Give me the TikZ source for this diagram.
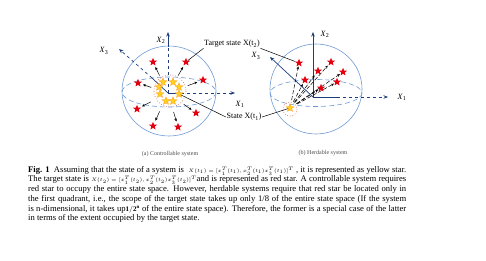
\documentclass[tikz,border=0pt]{standalone}
\usepackage{fontspec}
\setmainfont{Liberation Serif}
\usetikzlibrary{shapes.geometric,arrows.meta,calc}
\definecolor{sphereblue}{HTML}{6E9AD4}
\definecolor{axisblue}{HTML}{1F3D7A}
\definecolor{starred}{HTML}{E3000F}
\definecolor{stargold}{HTML}{FFD21F}
\definecolor{ringred}{HTML}{C8553D}
\begin{document}
\begin{tikzpicture}[x=1pt, y=-1pt,
    rstar/.style   = {star, star points=5, star point ratio=2.3, fill=starred, minimum size=8.5pt, inner sep=0pt},
    ystar/.style   = {star, star points=5, star point ratio=2.3, fill=stargold, draw=orange, line width=0.2pt, minimum size=8.5pt, inner sep=0pt},
    ball/.style    = {draw=sphereblue, line width=0.6pt},
    equator/.style = {draw=sphereblue, dash pattern=on 5pt off 3pt, line width=0.6pt},
    axis/.style    = {draw=axisblue, line width=0.7pt},
    tip/.style     = {-{Stealth[length=4.5pt,width=3.5pt]}},
    move/.style    = {-{Stealth[length=3pt,width=2.6pt]}, line width=0.5pt},
    ring/.style    = {draw=ringred, dotted, line width=0.6pt},
    lbl/.style     = {font=\fontsize{8}{9}\selectfont, inner sep=0.5pt},
    sub/.style     = {font=\fontsize{6}{7}\selectfont, text=black!70},
  ]
    \useasboundingbox (0,0) rectangle (486,261);
    % (a) controllable system
    \coordinate (Oa) at (168,93);
    \draw[ball] (169,91) ellipse (47 and 45);
    \draw[equator] (169,92) ellipse (47 and 15);
    \coordinate (a1) at (235,93);
    \coordinate (a2) at (168,32);
    \coordinate (a3) at (119,49);
    \coordinate (a1m) at (181,93);
    \coordinate (a2m) at (168,47);
    \coordinate (a3m) at (152,78);
    \draw[axis] (Oa) -- (a1m);
    \draw[axis, dashed, tip] (a1m) -- (a1);
    \draw[axis, dashed] (Oa) -- (a2m);
    \draw[axis, tip] (a2m) -- (a2);
    \draw[axis] (Oa) -- (a3m);
    \draw[axis, dashed, tip] (a3m) -- (a3);
    \node[lbl] (x1a) at (240,104) {\textit{X}\textsubscript{1}};
    \node[lbl] (x2a) at (161,40) {\textit{X}\textsubscript{2}};
    \node[lbl] (x3a) at (104,51) {\textit{X}\textsubscript{3}};
    \draw[ring] (170,91) circle (16);
    \foreach \x/\y [count=\i] in {163/82, 173/82, 179/87, 159/87, 160/94, 179/94, 166/101, 173/101} {
      \node[ystar] (ya\i) at (\x,\y) {};
    }
    \foreach \x/\y [count=\i] in {153/62, 186/62, 138/83, 203/80, 137/109, 196/113, 153/126, 178/127} {
      \node[rstar] (ra\i) at (\x,\y) {};
      \draw[move] ($(Oa)!0.56!(ra\i)$) -- ($(Oa)!0.84!(ra\i)$);
    }
    \node[sub] (capa) at (170,154) {(a) Controllable system};
    % (b) herdable system
    \coordinate (Ob) at (313,97);
    \draw[ball] (316,89) ellipse (46 and 45);
    \draw[equator] (316,93) ellipse (46 and 13.5);
    \coordinate (b1) at (388,97);
    \coordinate (b2) at (313,32);
    \coordinate (b3) at (270,57);
    \coordinate (b1m) at (337,97);
    \draw[axis, tip] (Ob) -- (b2);
    \draw[axis] (Ob) -- (b1m);
    \draw[axis, dashed, tip] (b1m) -- (b1);
    \draw[axis, tip] (Ob) -- (b3);
    \node[lbl] (x1b) at (402,97) {\textit{X}\textsubscript{1}};
    \node[lbl] (x2b) at (325,34) {\textit{X}\textsubscript{2}};
    \node[lbl] (x3b) at (256,56) {\textit{X}\textsubscript{3}};
    \draw[ring] (290,109) circle (7);
    \node[ystar] (yb) at (290,108) {};
    \foreach \x/\y [count=\i] in {299/63, 331/62, 318/71, 343/72, 305/80, 337/82, 321/88} {
      \node[rstar] (rb\i) at (\x,\y) {};
      \draw[move, dashed, dash pattern=on 4pt off 2pt, shorten <=5pt, shorten >=1pt] (yb) -- (rb\i);
    }
    \node[sub] (capb) at (323,153) {(b) Herdable system};
    % labels shared by both spheres
    \node[lbl, fill=white] (target) at (232,44) {Target state X(t\textsubscript{2})};
    \draw[line width=0.5pt] (target.south west) -- (ra2);
    \draw[line width=0.5pt] (target.south east) -- (rb1);
    \node[lbl] (state) at (244,117) {State X(t\textsubscript{1})};
    \draw[line width=0.5pt] (state.west) -- (ya6);
    \draw[line width=0.5pt] (state.east) -- (yb);
    % figure caption
    \node[anchor=north west, inner sep=0pt, text width=378pt, align=justify,
          font=\fontsize{8.6}{9.7}\selectfont] (caption) at (28,166)
      {\hyphenpenalty=10000\exhyphenpenalty=10000
       \textbf{Fig. 1}\ \ Assuming that the state of a system is\ \ {\fontsize{5}{6}\selectfont$X(t_1)=[x_1^T(t_1),x_2^T(t_1)x_3^T(t_1)]^T$}\ , it is represented as yellow star.\linebreak
       The target state is {\fontsize{5}{6}\selectfont$X(t_2)=[x_1^T(t_2),x_2^T(t_2)x_3^T(t_2)]^T$}and is represented as red star. A controllable system requires\linebreak
       red star to occupy the entire state space. However, herdable systems require that red star be located only in\linebreak
       the first quadrant, i.e., the scope of the target state takes up only 1/8 of the entire state space (If the system\linebreak
       is n-dimensional, it takes up{\fontsize{7}{8}\selectfont$\mathbf{1/2^n}$} of the entire state space). Therefore, the former is a special case of the latter\linebreak
       in terms of the extent occupied by the target state.\par};
\end{tikzpicture}
\end{document}
